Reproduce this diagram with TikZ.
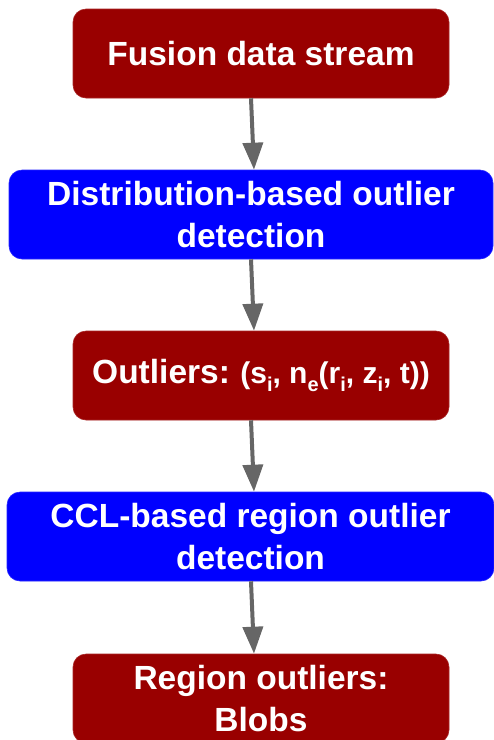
\documentclass[tikz,border=0pt]{standalone}
\usepackage{fontspec}
\setmainfont{Liberation Sans}
\usetikzlibrary{arrows.meta}
\definecolor{boxred}{HTML}{990000}
\definecolor{boxblue}{HTML}{0000FF}
\definecolor{arrgray}{HTML}{666666}
\newcommand{\sbx}[1]{\raisebox{-8pt}{\fontsize{20}{20}\selectfont #1}}
\begin{document}
\begin{tikzpicture}[x=1pt,y=1pt,
  stepbox/.style={rounded corners=13pt, inner sep=0pt, minimum height=89pt,
    align=center, text=white, font=\fontsize{33.5}{42}\selectfont\bfseries},
  redbox/.style={stepbox, fill=boxred, draw=boxred!85!white, line width=0.6pt, minimum width=376pt},
  bluebox/.style={stepbox, fill=boxblue, draw=boxblue!85!white, line width=0.6pt},
  arr/.style={draw=arrgray, line width=4pt, -{Triangle[length=27pt,width=20pt]}, arrgray}
]
\useasboundingbox (0,0) rectangle (494,-740);
\clip (0,0) rectangle (494,-740);
\node[redbox] (fds) at (261,-53.5) {Fusion data stream};
\node[bluebox, minimum width=484pt] (dod) at (251,-214.5) {Distribution-based outlier\\detection};
\node[redbox] (out) at (261,-375.5) {Outliers:\hspace{-2pt} {\fontsize{30}{42}\selectfont(s\sbx{i}, n\sbx{e}(r\sbx{i}, z\sbx{i}, t))}};
\node[bluebox, minimum width=487pt] (ccl) at (250.5,-536.5) {CCL-based region outlier\\detection};
\node[redbox] (reg) at (261,-698.5) {Region outliers:\\Blobs};
\draw[arr] ([xshift=-10pt]fds.south) -- ([xshift=3pt]dod.north);
\draw[arr] ([xshift=0pt]dod.south) -- ([xshift=-7pt]out.north);
\draw[arr] ([xshift=-10pt]out.south) -- ([xshift=3.5pt]ccl.north);
\draw[arr] ([xshift=0.5pt]ccl.south) -- ([xshift=-7pt]reg.north);
\end{tikzpicture}
\end{document}
